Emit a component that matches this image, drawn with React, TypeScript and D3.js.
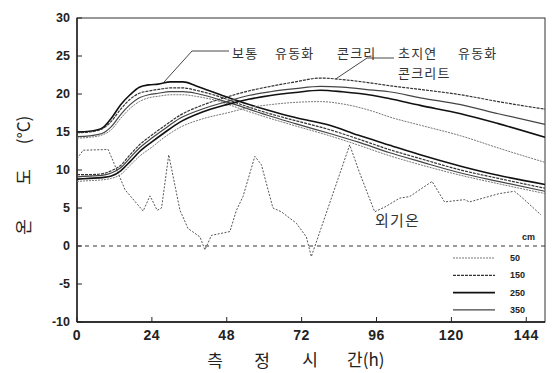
import React from 'react';
import * as d3 from 'd3';

// Canvas and plot frame
const W = 552;
const H = 373;
const M = { top: 18, right: 7, bottom: 51, left: 77 };

const xTicks = [0, 24, 48, 72, 96, 120, 144];
const yTicks = [-10, -5, 0, 5, 10, 15, 20, 25, 30];

// 보통 유동화 콘크리트 (normal flowing concrete), by measuring depth (cm)
const normalHours = [0, 4, 8, 11, 14, 17, 20, 23, 26, 30, 34, 38, 42, 46, 50, 61, 70, 81, 90, 100, 110, 123, 135, 150];
const normal250 = [15.0, 15.1, 15.5, 16.8, 18.6, 19.9, 20.9, 21.2, 21.3, 21.6, 21.6, 21.1, 20.5, 19.9, 19.3, 17.9, 16.9, 15.9, 14.6, 13.3, 12.0, 10.5, 9.3, 8.1];
const normal150 = [14.9, 15.0, 15.4, 16.4, 18.0, 19.3, 20.1, 20.4, 20.6, 20.8, 20.8, 20.5, 20.1, 19.6, 19.0, 17.5, 16.5, 15.3, 14.1, 12.7, 11.5, 10.0, 8.9, 7.6];
const normal350 = [14.4, 14.5, 14.8, 15.7, 17.3, 18.6, 19.5, 19.9, 20.1, 20.3, 20.3, 20.1, 19.7, 19.2, 18.7, 17.2, 16.1, 14.8, 13.7, 12.3, 11.1, 9.6, 8.5, 7.2];
const normal50 = [14.2, 14.3, 14.6, 15.3, 16.8, 18.1, 19.0, 19.5, 19.7, 19.9, 19.9, 19.7, 19.4, 19.0, 18.4, 16.9, 15.8, 14.5, 13.3, 11.9, 10.7, 9.3, 8.2, 6.9];

// 초지연 유동화 콘크리트 (super-retarded flowing concrete)
const retardHours = [0, 4, 8, 11, 14, 17, 20, 24, 28, 33, 40, 48, 55, 62, 70, 78, 85, 95, 100, 110, 123, 135, 150];
const retard150 = [9.4, 9.4, 9.5, 9.9, 10.6, 12.0, 13.3, 14.6, 15.8, 17.2, 18.5, 19.6, 20.4, 21.0, 21.6, 22.1, 21.9, 21.4, 21.1, 20.6, 19.9, 19.0, 18.0];
const retard350 = [9.1, 9.2, 9.3, 9.6, 10.3, 11.6, 12.9, 14.2, 15.4, 16.8, 18.0, 19.0, 19.8, 20.3, 20.7, 21.0, 20.9, 20.5, 20.3, 19.5, 18.6, 17.4, 16.0];
const retard250 = [8.8, 8.9, 9.0, 9.2, 9.9, 11.1, 12.4, 13.7, 14.9, 16.3, 17.6, 18.6, 19.3, 19.8, 20.2, 20.5, 20.3, 19.8, 19.4, 18.5, 17.4, 16.1, 14.3];
const retard50 = [8.5, 8.6, 8.7, 8.9, 9.4, 10.6, 11.8, 13.0, 14.3, 15.6, 16.7, 17.5, 18.2, 18.6, 18.9, 19.0, 18.7, 17.7, 17.0, 15.9, 14.5, 12.9, 11.0];

// 외기온 (outdoor air temperature)
const airHours = [0, 2, 10, 15.4, 21.2, 23.4, 25.7, 27.1, 29.4, 33, 35.6, 39.4, 41, 43.1, 49, 51.1, 53.2, 57, 59.1, 62.8, 65.5, 70.3, 73.5, 75.1, 87.4, 90.6, 95.4, 99, 103.4, 106.6, 113.8, 117.8, 124.2, 125.8, 135.4, 140.2, 142.3, 148.7];
const airTemps = [11.5, 12.6, 12.7, 7.4, 4.6, 6.6, 4.7, 5.0, 12.0, 4.7, 2.3, 1.2, -0.5, 1.4, 1.9, 4.7, 6.5, 11.8, 10.7, 5.0, 4.5, 3.0, 1.2, -1.4, 13.3, 9.6, 4.5, 5.2, 6.3, 6.5, 8.5, 5.8, 6.1, 5.8, 6.9, 7.2, 6.5, 4.1];

const depthLabels = ['50', '150', '250', '350'];

type Style = { stroke: string; width: number; dash?: string };
const depthStyle: Record<string, Style> = {
  '50': { stroke: '#777', width: 1, dash: '2,1' },
  '150': { stroke: '#333', width: 1.2, dash: '3,1' },
  '250': { stroke: '#111', width: 1.6 },
  '350': { stroke: '#444', width: 1.2 },
};

const x = d3.scaleLinear().domain([0, 150]).range([M.left, W - M.right]);
const y = d3.scaleLinear().domain([-10, 30]).range([H - M.bottom, M.top]);

const curve = d3
  .line<[number, number]>()
  .x((d) => x(d[0]))
  .y((d) => y(d[1]))
  .curve(d3.curveMonotoneX);

const straight = d3
  .line<[number, number]>()
  .x((d) => x(d[0]))
  .y((d) => y(d[1]));

const zip = (hs: number[], vs: number[]): [number, number][] => hs.map((h, i) => [h, vs[i]]);

const concreteSeries = [
  { depth: '250', pts: zip(normalHours, normal250) },
  { depth: '150', pts: zip(normalHours, normal150) },
  { depth: '350', pts: zip(normalHours, normal350) },
  { depth: '50', pts: zip(normalHours, normal50) },
  { depth: '150', pts: zip(retardHours, retard150) },
  { depth: '350', pts: zip(retardHours, retard350) },
  { depth: '250', pts: zip(retardHours, retard250) },
  { depth: '50', pts: zip(retardHours, retard50) },
];

const KR = '"Noto Sans CJK KR", "Noto Sans", sans-serif';
const NUM = '"Liberation Sans", Arial, sans-serif';

export default function App() {
  const x0 = M.left;
  const x1 = W - M.right;
  const yTop = M.top;
  const yBot = H - M.bottom;

  // leader targets taken from the curves themselves
  const normalTarget: [number, number] = [x(27.5), y(21.4)];
  const retardTarget: [number, number] = [x(83), y(22.0)];

  return (
    <svg
      width={W}
      height={H}
      style={{ position: 'absolute', left: 0, top: 0, background: '#fff' }}
    >
      {/* frame */}
      <rect x={x0} y={yTop} width={x1 - x0} height={yBot - yTop} fill="none" stroke="#333" strokeWidth={1} />
      <line x1={x0} x2={x0} y1={yTop} y2={yBot} stroke="#111" strokeWidth={1.3} />
      <line x1={x0} x2={x1} y1={yBot} y2={yBot} stroke="#111" strokeWidth={1.3} />

      {/* y ticks + labels */}
      {yTicks.map((t) => (
        <g key={'y' + t}>
          <line x1={x0} x2={x0 + 5} y1={y(t)} y2={y(t)} stroke="#222" strokeWidth={1} />
          <text
            x={x0 - 7}
            y={y(t)}
            textAnchor="end"
            dominantBaseline="central"
            fontFamily={NUM}
            fontWeight="bold"
            fontSize={12.5}
            fill="#222"
          >
            {t}
          </text>
        </g>
      ))}

      {/* x ticks + labels */}
      {xTicks.map((t) => (
        <g key={'x' + t}>
          <line x1={x(t)} x2={x(t)} y1={yBot} y2={yBot - 5} stroke="#222" strokeWidth={1} />
          <text
            x={x(t)}
            y={yBot + 18}
            textAnchor="middle"
            fontFamily={NUM}
            fontWeight="bold"
            fontSize={14}
            letterSpacing={0.6}
            fill="#222"
          >
            {t}
          </text>
        </g>
      ))}

      {/* 0 °C reference */}
      <line x1={x0} x2={x1} y1={y(0)} y2={y(0)} stroke="#333" strokeWidth={1} strokeDasharray="4,4" />

      {/* outdoor temperature */}
      <path
        d={straight(zip(airHours, airTemps)) || ''}
        fill="none"
        stroke="#555"
        strokeWidth={1}
        strokeDasharray="2,1.5"
      />

      {/* concrete temperatures */}
      {concreteSeries.map((s, i) => {
        const st = depthStyle[s.depth];
        return (
          <path
            key={'c' + i}
            d={curve(s.pts) || ''}
            fill="none"
            stroke={st.stroke}
            strokeWidth={st.width}
            strokeDasharray={st.dash}
          />
        );
      })}

      {/* annotations */}
      <polyline
        points={`${normalTarget[0]},${normalTarget[1]} 192,51 229,51`}
        fill="none"
        stroke="#333"
        strokeWidth={0.9}
      />
      <polyline
        points={`${retardTarget[0]},${retardTarget[1]} 367,58 394,58`}
        fill="none"
        stroke="#333"
        strokeWidth={0.9}
      />
      <g fontFamily={KR} fontSize={13} fill="#333" letterSpacing={1.2}>
        <text x={232} y={58}>보통</text>
        <text x={275} y={58}>유동화</text>
        <text x={337} y={58}>콘크리</text>
        <text x={398} y={58}>초지연</text>
        <text x={458} y={58}>유동화</text>
        <text x={398} y={77.5}>콘크리트</text>
        <text x={375} y={226} fontSize={15}>외기온</text>
      </g>

      {/* legend */}
      <text x={535} y={240} textAnchor="end" fontFamily={NUM} fontWeight="bold" fontSize={9} fill="#222">
        cm
      </text>
      {depthLabels.map((d, i) => {
        const st = depthStyle[d];
        const ly = 258 + i * 17.3;
        return (
          <g key={'lg' + d}>
            <line
              x1={453}
              x2={495}
              y1={ly}
              y2={ly}
              stroke={st.stroke}
              strokeWidth={st.width}
              strokeDasharray={st.dash}
            />
            <text
              x={510}
              y={ly}
              dominantBaseline="central"
              fontFamily={NUM}
              fontWeight="bold"
              fontSize={9}
              fill="#222"
            >
              {d}
            </text>
          </g>
        );
      })}

      {/* axis titles */}
      <g fontFamily={KR} fontSize={17} fill="#222">
        <text x={22} y={227} textAnchor="middle" dominantBaseline="central" transform="rotate(-90 22 227)">
          온
        </text>
        <text x={22} y={177} textAnchor="middle" dominantBaseline="central" transform="rotate(-90 22 177)">
          도
        </text>
        <text x={22} y={130} textAnchor="middle" dominantBaseline="central" transform="rotate(-90 22 130)">
          (°C)
        </text>
        <text x={215} y={367} textAnchor="middle">측</text>
        <text x={262} y={367} textAnchor="middle">정</text>
        <text x={310} y={366} textAnchor="middle">시</text>
        <text x={347} y={366}>간(h)</text>
      </g>
    </svg>
  );
}
